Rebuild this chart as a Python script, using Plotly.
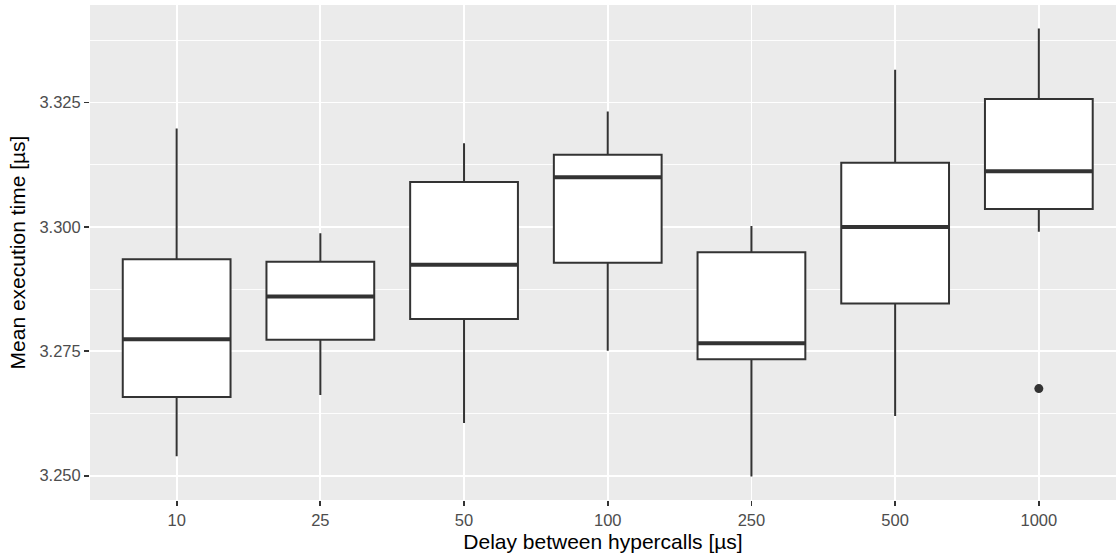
import plotly.graph_objects as go

# ---- data ----
categories = ["10", "25", "50", "100", "250", "500", "1000"]
lower_whisker = [3.2539, 3.2662, 3.2606, 3.2751, 3.2498, 3.2620, 3.2990]
q1 = [3.2658, 3.2773, 3.2815, 3.2928, 3.2734, 3.2846, 3.3036]
median = [3.2774, 3.2860, 3.2924, 3.3100, 3.2766, 3.3000, 3.3112]
q3 = [3.2935, 3.2930, 3.3090, 3.3145, 3.2949, 3.3129, 3.3257]
upper_whisker = [3.3198, 3.2987, 3.3168, 3.3232, 3.3002, 3.3316, 3.3399]
outlier_category = ["1000"]
outlier_value = [3.2675]
y_ticks = [3.250, 3.275, 3.300, 3.325]

positions = list(range(len(categories)))
box_width = 0.75
dark = "#333333"

fig = go.Figure()
fig.add_trace(go.Box(
    x=positions, q1=q1, median=median, q3=q3,
    lowerfence=lower_whisker, upperfence=upper_whisker,
    width=box_width, whiskerwidth=0,
    fillcolor="white", line=dict(color=dark, width=2),
    boxpoints=False, hoverinfo="skip", showlegend=False,
))

# thicker median bars (ggplot fatten)
mx, my = [], []
for p, m in zip(positions, median):
    mx += [p - box_width / 2, p + box_width / 2, None]
    my += [m, m, None]
fig.add_trace(go.Scatter(x=mx, y=my, mode="lines",
                         line=dict(color=dark, width=4),
                         hoverinfo="skip", showlegend=False))

# outliers
fig.add_trace(go.Scatter(
    x=[categories.index(c) for c in outlier_category], y=outlier_value,
    mode="markers", marker=dict(color=dark, size=9),
    hoverinfo="skip", showlegend=False))

font_family = "Liberation Sans, Arial, sans-serif"
fig.update_layout(
    width=1116, height=556,
    margin=dict(l=90, r=0, t=5, b=56),
    paper_bgcolor="white", plot_bgcolor="#EBEBEB",
    font=dict(family=font_family),
    showlegend=False,
)
fig.update_xaxes(
    range=[-0.603, 6.537], automargin=False,
    tickmode="array", tickvals=positions, ticktext=categories,
    showgrid=True, gridcolor="white", gridwidth=1.8,
    zeroline=False, showline=False,
    ticks="outside", ticklen=5, tickwidth=1.8, tickcolor=dark,
    tickfont=dict(size=16.5, color="#4D4D4D"),
    title=dict(text="Delay between hypercalls [µs]",
               font=dict(size=21, color="black"), standoff=6),
)
fig.update_yaxes(
    range=[3.2451, 3.3446], automargin=False,
    tickmode="array", tickvals=y_ticks,
    ticktext=[f"{v:.3f}" for v in y_ticks],
    showgrid=True, gridcolor="white", gridwidth=1.8,
    minor=dict(tickmode="array",
               tickvals=[v + 0.0125 for v in y_ticks],
               showgrid=True, gridcolor="white", gridwidth=0.9, ticks=""),
    zeroline=False, showline=False,
    ticks="outside", ticklen=5, tickwidth=1.8, tickcolor=dark,
    tickfont=dict(size=16.5, color="#4D4D4D"),
    title=dict(text="Mean execution time [µs]",
               font=dict(size=21, color="black"), standoff=8),
)

fig.write_html(
    "out.html",
    config={"displayModeBar": False, "staticPlot": True},
    post_script="document.body.style.margin='0';document.body.style.overflow='hidden';",
)
